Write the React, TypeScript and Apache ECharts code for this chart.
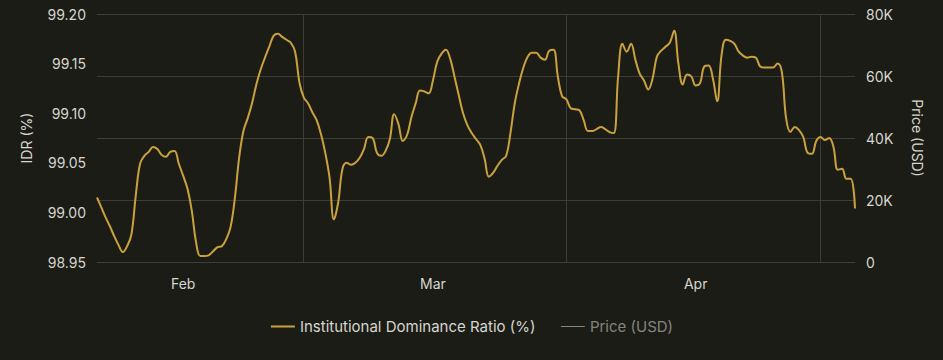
import React, { useEffect, useRef } from "react";
import * as echarts from "echarts";

// Institutional Dominance Ratio (%), sampled every 12 hours from 2024-01-22
const idrValues = [
  99.015, 99.005, 98.995, 98.986, 98.976, 98.967, 98.960, 98.966, 98.978, 99.017,
  99.049, 99.057, 99.061, 99.066, 99.064, 99.058, 99.056, 99.061, 99.062, 99.049,
  99.037, 99.024, 99.002, 98.970, 98.956, 98.956, 98.957, 98.961, 98.965, 98.966,
  98.973, 98.985, 99.014, 99.055, 99.082, 99.095, 99.110, 99.129, 99.144, 99.156,
  99.167, 99.178, 99.180, 99.177, 99.174, 99.171, 99.162, 99.131, 99.116, 99.110,
  99.101, 99.093, 99.079, 99.060, 99.035, 98.993, 99.010, 99.044, 99.050, 99.048,
  99.050, 99.055, 99.064, 99.076, 99.075, 99.060, 99.057, 99.062, 99.074, 99.099,
  99.089, 99.072, 99.078, 99.096, 99.110, 99.123, 99.122, 99.120, 99.133, 99.152,
  99.160, 99.164, 99.155, 99.137, 99.118, 99.100, 99.088, 99.080, 99.074, 99.068,
  99.054, 99.036, 99.040, 99.047, 99.053, 99.057, 99.080, 99.110, 99.130, 99.146,
  99.157, 99.161, 99.161, 99.156, 99.154, 99.163, 99.164, 99.137, 99.117, 99.114,
  99.105, 99.104, 99.103, 99.093, 99.082, 99.082, 99.084, 99.086, 99.084, 99.081,
  99.080, 99.137, 99.170, 99.162, 99.170, 99.154, 99.140, 99.133, 99.124, 99.135,
  99.157, 99.163, 99.167, 99.171, 99.183, 99.150, 99.129, 99.139, 99.137, 99.128,
  99.130, 99.147, 99.148, 99.135, 99.112, 99.158, 99.174, 99.173, 99.170, 99.162,
  99.158, 99.156, 99.157, 99.156, 99.147, 99.146, 99.146, 99.146, 99.150, 99.142,
  99.095, 99.081, 99.086, 99.083, 99.076, 99.060, 99.059, 99.072, 99.076, 99.073,
  99.075, 99.066, 99.043, 99.044, 99.034, 99.034, 99.004,
];

// Price series is present in the legend but switched off
const priceValues: number[] = [];

const startDate = Date.UTC(2024, 0, 22);
const stepHours = 12;
const monthNames = ["Jan", "Feb", "Mar", "Apr", "May", "Jun", "Jul", "Aug", "Sep", "Oct", "Nov", "Dec"];
const labelDates = ["2024-02-01 00:00", "2024-03-01 00:00", "2024-03-31 12:00"];
const gridDates = ["2024-02-15 00:00", "2024-03-16 12:00", "2024-04-15 00:00"];
const labelTexts = ["Feb", "Mar", "Apr"];

const idrTicks = { min: 98.95, max: 99.2, interval: 0.05 };
const priceTicks = { min: 0, max: 80000, interval: 20000 };

const pad = (n: number) => (n < 10 ? "0" + n : "" + n);
const categories = idrValues.map((_, i) => {
  const d = new Date(startDate + i * stepHours * 3600 * 1000);
  return `${d.getUTCFullYear()}-${pad(d.getUTCMonth() + 1)}-${pad(d.getUTCDate())} ${pad(d.getUTCHours())}:00`;
});

const BG = "#1c1c17";
const TEXT = "#d6d6ce";
const GRID = "#3d3d37";
const GOLD = "#c9a23e";
const MUTED = "#85857d";
const FONT = "Inter";

export default function App() {
  const ref = useRef<HTMLDivElement>(null);

  useEffect(() => {
    if (!ref.current) return;
    const chart = echarts.init(ref.current, null, { renderer: "svg" });
    chart.setOption({
      animation: false,
      backgroundColor: BG,
      textStyle: { fontFamily: FONT },
      grid: { left: 97, right: 88, top: 14, bottom: 98, containLabel: false },
      legend: {
        bottom: 21,
        left: "center",
        itemWidth: 24,
        itemHeight: 14,
        itemGap: 25,
        textStyle: { color: TEXT, fontSize: 15, fontFamily: FONT },
        inactiveColor: MUTED,
        inactiveBorderColor: "rgba(0,0,0,0)",
        itemStyle: { opacity: 0, borderWidth: 0 },
        lineStyle: { inactiveWidth: 1, inactiveColor: MUTED },
        selected: { "Price (USD)": false },
        data: ["Institutional Dominance Ratio (%)", "Price (USD)"],
      },
      xAxis: {
        type: "category",
        data: categories,
        boundaryGap: false,
        axisLine: { show: false },
        axisTick: { show: false },
        axisLabel: {
          color: TEXT,
          fontSize: 14,
          fontFamily: FONT,
          margin: 14,
          interval: (_i: number, v: string) => labelDates.indexOf(v) >= 0,
          formatter: (v: string) => {
            const k = labelDates.indexOf(v);
            return k >= 0 ? labelTexts[k] : monthNames[parseInt(v.slice(5, 7), 10) - 1];
          },
        },
        splitLine: {
          show: true,
          interval: (_i: number, v: string) => gridDates.indexOf(v) >= 0,
          lineStyle: { color: GRID, width: 1 },
        },
      },
      yAxis: [
        {
          type: "value",
          name: "IDR (%)",
          nameLocation: "middle",
          nameGap: 64,
          nameRotate: 90,
          nameTextStyle: { color: TEXT, fontSize: 14, fontFamily: FONT },
          min: idrTicks.min,
          max: idrTicks.max,
          interval: idrTicks.interval,
          axisLine: { show: false },
          axisTick: { show: false },
          splitLine: { show: false },
          axisLabel: {
            color: TEXT,
            fontSize: 14,
            fontFamily: FONT,
            margin: 11,
            formatter: (v: number) => v.toFixed(2),
          },
        },
        {
          type: "value",
          name: "Price (USD)",
          nameLocation: "middle",
          nameGap: 55,
          nameRotate: -90,
          nameTextStyle: { color: TEXT, fontSize: 14, fontFamily: FONT },
          min: priceTicks.min,
          max: priceTicks.max,
          interval: priceTicks.interval,
          position: "right",
          axisLine: { show: false },
          axisTick: { show: false },
          splitLine: { show: true, lineStyle: { color: GRID, width: 1 } },
          axisLabel: {
            color: TEXT,
            fontSize: 14,
            fontFamily: FONT,
            margin: 11,
            formatter: (v: number) => (v === 0 ? "0" : v / 1000 + "K"),
          },
        },
      ],
      series: [
        {
          name: "Institutional Dominance Ratio (%)",
          type: "line",
          yAxisIndex: 0,
          data: idrValues,
          smooth: 0.4,
          showSymbol: false,
          symbol: "none",
          lineStyle: { color: GOLD, width: 2 },
          itemStyle: { color: GOLD },
        },
        {
          name: "Price (USD)",
          type: "line",
          yAxisIndex: 1,
          data: priceValues,
          showSymbol: false,
          symbol: "none",
          lineStyle: { color: MUTED, width: 1 },
          itemStyle: { color: MUTED },
        },
      ],
    });
    return () => chart.dispose();
  }, []);

  return (
    <div style={{ position: "fixed", left: 0, top: 0, width: 943, height: 360, background: BG }}>
      <div ref={ref} style={{ width: 943, height: 360 }} />
    </div>
  );
}
